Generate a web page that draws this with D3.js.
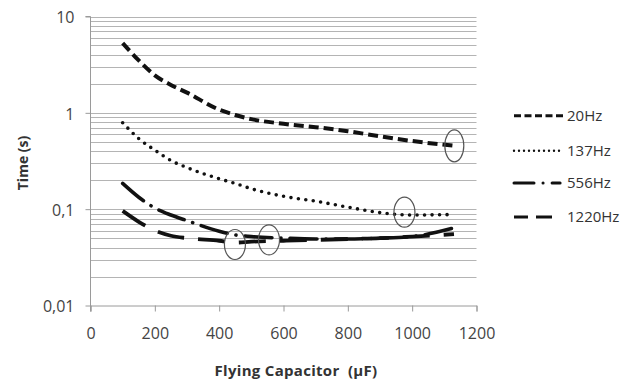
<!DOCTYPE html>
<html>
<head>
<meta charset="utf-8">
<script src="https://cdn.jsdelivr.net/npm/d3@7/dist/d3.min.js"></script>
<style>
  html, body { margin: 0; padding: 0; background: #fff; }
  svg { display: block; }
</style>
</head>
<body>
<svg id="chart" width="634" height="383"></svg>
<script>
// ---- data ----
const capacitance = [100, 150, 200, 250, 300, 400, 450, 500, 600, 700, 800, 900, 1000, 1130];
const seriesNames = ["20Hz", "137Hz", "556Hz", "1220Hz"];
const time20 = [5.3, 3.5, 2.45, 1.95, 1.62, 1.08, 0.95, 0.86, 0.77, 0.71, 0.645, 0.57, 0.51, 0.455];
const time137 = [0.79, 0.54, 0.41, 0.32, 0.27, 0.207, 0.185, 0.163, 0.136, 0.121, 0.105, 0.092, 0.087, 0.088];
const time556 = [0.185, 0.133, 0.103, 0.087, 0.076, 0.059, 0.054, 0.052, 0.050, 0.049, 0.049, 0.050, 0.052, 0.064];
const time1220 = [0.096, 0.074, 0.060, 0.053, 0.050, 0.047, 0.045, 0.046, 0.047, 0.048, 0.049, 0.050, 0.052, 0.055];
const xTicks = [0, 200, 400, 600, 800, 1000, 1200];
const yTicks = [0.01, 0.1, 1, 10];
const yTickLabels = ["0,01", "0,1", "1", "10"];
const marksX = [1131, 976, 449, 555];
const marksY = [0.455, 0.093, 0.043, 0.048];

// ---- layout ----
const svg = d3.select("#chart");
const x = d3.scaleLinear().domain([0, 1200]).range([90.5, 476.5]);
const y = d3.scaleLog().domain([0.01, 10]).range([305.5, 16.5]);

// gridlines (major + minor)
const gridVals = [];
[0.01, 0.1, 1].forEach(d => { for (let k = 1; k <= 9; k++) gridVals.push(d * k); });
gridVals.push(10);
svg.append("g").selectAll("line").data(gridVals.filter(v => v > 0.0100001)).join("line")
  .attr("x1", x(0)).attr("x2", x(1200))
  .attr("y1", d => Math.round(y(d)) + 0.5).attr("y2", d => Math.round(y(d)) + 0.5)
  .attr("stroke", "#b4b4b4").attr("stroke-width", 1);

// axes
const yAxis = d3.axisLeft(y).tickValues(yTicks)
  .tickFormat((d, i) => yTickLabels[i]).tickSize(5).tickPadding(11);
const gy = svg.append("g").attr("transform", `translate(${x(0)},0)`).call(yAxis);
const xAxis = d3.axisBottom(x).tickValues(xTicks).tickFormat(d3.format("d")).tickSize(6).tickPadding(16);
const gx = svg.append("g").attr("transform", `translate(0,${y(0.01)})`).call(xAxis);
[gx, gy].forEach(g => {
  g.select(".domain").attr("stroke", "#9a9a9a");
  g.selectAll(".tick line").attr("stroke", "#9a9a9a");
  g.selectAll(".tick text").attr("fill", "#444").style("font-family", "'Open Sans', sans-serif").style("font-size", "16px");
});
gy.select(".domain").attr("d", `M-5,${y(10)}H0V${y(0.01) + 6}`);
gy.selectAll(".tick text").attr("dy", "0.4em");

// axis titles
svg.append("text").attr("x", 296).attr("y", 376).attr("text-anchor", "middle")
  .attr("fill", "#333").style("font-family", "'Open Sans', sans-serif").style("font-weight", "bold")
  .style("font-size", "15px").style("letter-spacing", "0.3px").style("white-space", "pre")
  .text("Flying Capacitor  (µF)");
svg.append("text").attr("transform", "translate(28,163) rotate(-90)").attr("text-anchor", "middle")
  .attr("fill", "#333").style("font-family", "'Open Sans', sans-serif").style("font-weight", "bold").style("font-size", "14px")
  .text("Time (s)");

// series
const styles = [
  { dash: "10,5", width: 4, cap: "butt" },
  { dash: "0,7.5", width: 3.6, cap: "round" },
  { dash: "27,9,0.1,9", width: 3.6, cap: "round" },
  { dash: "27,14", width: 3.8, cap: "butt" }
];
const allSeries = [time20, time137, time556, time1220];
const line = d3.line().x((d, i) => x(capacitance[i])).y(d => y(d)).curve(d3.curveMonotoneX);
allSeries.forEach((s, i) => {
  svg.append("path").datum(s).attr("d", line)
    .attr("fill", "none").attr("stroke", "#111")
    .attr("stroke-width", styles[i].width)
    .attr("stroke-dasharray", styles[i].dash)
    .attr("stroke-linecap", styles[i].cap);
});

// annotation ellipses
svg.append("g").selectAll("ellipse").data(marksX).join("ellipse")
  .attr("cx", d => x(d)).attr("cy", (d, i) => y(marksY[i]))
  .attr("rx", (d, i) => i === 0 ? 9.5 : 10.5).attr("ry", (d, i) => i === 0 ? 16 : 15)
  .attr("fill", "none").attr("stroke", "#555").attr("stroke-width", 1.2);

// legend
const legendY = [115.7, 150.7, 183, 217];
const legendDash = ["7,3.5", "0,5", "20,9,0.1,9,8", "14,8,16"];
seriesNames.forEach((name, i) => {
  svg.append("line").attr("x1", 514).attr("x2", 563).attr("y1", legendY[i]).attr("y2", legendY[i])
    .attr("stroke", "#111").attr("stroke-width", i === 1 ? 2.4 : 3)
    .attr("stroke-dasharray", legendDash[i])
    .attr("stroke-linecap", i === 1 || i === 2 ? "round" : "butt");
  svg.append("text").attr("x", 567).attr("y", legendY[i]).attr("dy", "0.36em")
    .attr("fill", "#333").style("font-family", "'Open Sans', sans-serif").style("font-size", "15px")
    .text(name);
});
</script>
</body>
</html>
